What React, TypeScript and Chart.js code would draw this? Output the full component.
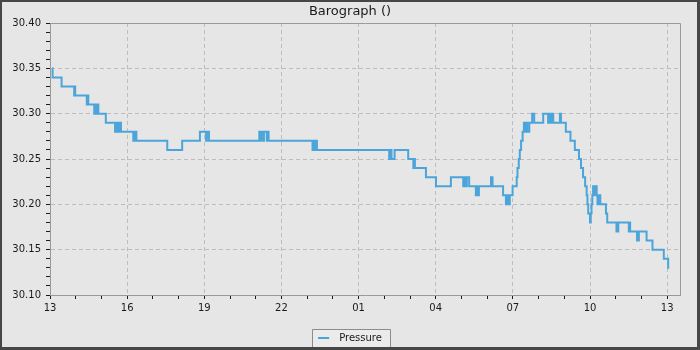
import React, { useEffect, useRef } from 'react';
import { Chart, registerables } from 'chart.js';

Chart.register(...registerables);

// Hours elapsed since 13:00 on the first day (each entry is the moment the reading changes)
const hoursSinceStart = [
  0.09, 0.10, 0.45, 0.94, 0.96, 0.98, 1.43, 1.46, 1.49, 1.72,
  1.77, 1.81, 1.85, 1.88, 2.17, 2.53, 2.59, 2.64, 2.70, 2.76,
  3.24, 3.30, 3.36, 4.56, 5.14, 5.83, 6.07, 6.10, 6.18, 8.14,
  8.18, 8.22, 8.30, 8.32, 8.43, 8.46, 8.50, 10.21, 10.26, 10.30,
  10.34, 10.38, 13.19, 13.24, 13.28, 13.40, 13.93, 14.13, 14.15, 14.19,
  14.62, 15.01, 15.59, 16.07, 16.12, 16.15, 16.21, 16.30, 16.56, 16.60,
  16.64, 16.68, 17.15, 17.21, 17.62, 17.73, 17.77, 17.81, 17.88, 17.99,
  18.15, 18.18, 18.23, 18.27, 18.32, 18.38, 18.43, 18.47, 18.51, 18.56,
  18.64, 18.75, 18.83, 19.18, 19.37, 19.41, 19.47, 19.53, 19.57, 19.83,
  19.87, 20.06, 20.24, 20.41, 20.57, 20.65, 20.73, 20.81, 20.87, 20.90,
  20.93, 21.00, 21.03, 21.06, 21.09, 21.12, 21.16, 21.19, 21.26, 21.29,
  21.35, 21.40, 21.62, 21.67, 22.03, 22.10, 22.51, 22.54, 22.56, 22.83,
  22.90, 23.20, 23.43, 23.87, 24.04, 24.08,
];

const pressure = [
  30.35, 30.34, 30.33, 30.32, 30.33, 30.32, 30.31, 30.32, 30.31, 30.30,
  30.31, 30.30, 30.31, 30.30, 30.29, 30.28, 30.29, 30.28, 30.29, 30.28,
  30.27, 30.28, 30.27, 30.26, 30.27, 30.28, 30.27, 30.28, 30.27, 30.28,
  30.27, 30.28, 30.27, 30.28, 30.27, 30.28, 30.27, 30.26, 30.27, 30.26,
  30.27, 30.26, 30.25, 30.26, 30.25, 30.26, 30.25, 30.24, 30.25, 30.24,
  30.23, 30.22, 30.23, 30.22, 30.23, 30.22, 30.23, 30.22, 30.21, 30.22,
  30.21, 30.22, 30.23, 30.22, 30.21, 30.20, 30.21, 30.20, 30.21, 30.22,
  30.23, 30.24, 30.25, 30.26, 30.27, 30.28, 30.29, 30.28, 30.29, 30.28,
  30.29, 30.30, 30.29, 30.30, 30.29, 30.30, 30.29, 30.30, 30.29, 30.30,
  30.29, 30.28, 30.27, 30.26, 30.25, 30.24, 30.23, 30.22, 30.21, 30.20,
  30.19, 30.18, 30.19, 30.20, 30.21, 30.22, 30.21, 30.22, 30.21, 30.20,
  30.21, 30.20, 30.19, 30.18, 30.17, 30.18, 30.17, 30.18, 30.17, 30.16,
  30.17, 30.16, 30.15, 30.14, 30.13, 30.13,
];

// Major x tick labels, one every 3 hours starting at 13:00
const xTickLabels = ['13', '16', '19', '22', '01', '04', '07', '10', '13'];
const xMaxHours = 24.5;
const yMin = 30.10;
const yMax = 30.40;

const LINE_COLOR = '#4ba5da';
const BG = '#e6e6e6';
const GRID = '#bdbdbd';
const AXIS = '#999999';
const TEXT = '#1a1a1a';
const FONT = 'DejaVu Sans';

export default function App() {
  const ref = useRef<HTMLCanvasElement>(null);

  useEffect(() => {
    document.body.style.margin = '0';
    const canvas = ref.current;
    if (!canvas) return;

    const marker = document.createElement('canvas');
    marker.width = 16;
    marker.height = 2;
    const mctx = marker.getContext('2d');
    if (mctx) {
      mctx.fillStyle = LINE_COLOR;
      mctx.fillRect(0, 0, 11, 2);
    }

    const framePlugin = {
      id: 'frame',
      beforeDraw(chart: any) {
        const { ctx, width, height } = chart;
        ctx.save();
        ctx.fillStyle = BG;
        ctx.fillRect(0, 0, width, height);
        const lg = chart.legend;
        if (lg && lg.legendHitBoxes && lg.legendHitBoxes.length) {
          const hb = lg.legendHitBoxes[0];
          const x0 = Math.round(hb.left - 6) + 0.5;
          const x1 = Math.round(hb.left + hb.width + 8) + 0.5;
          const y0 = Math.round(hb.top - 4) + 0.5;
          ctx.fillStyle = '#ebebeb';
          ctx.fillRect(x0, y0, x1 - x0, height - y0);
          ctx.strokeStyle = '#8c8c8c';
          ctx.lineWidth = 1;
          ctx.beginPath();
          ctx.moveTo(x0, height);
          ctx.lineTo(x0, y0);
          ctx.lineTo(x1, y0);
          ctx.lineTo(x1, height);
          ctx.stroke();
        }
        ctx.restore();
      },
      beforeDatasetsDraw(chart: any) {
        const { ctx, chartArea } = chart;
        ctx.save();
        ctx.strokeStyle = AXIS;
        ctx.lineWidth = 1;
        ctx.beginPath();
        ctx.moveTo(Math.round(chartArea.left) + 0.5, Math.round(chartArea.top) + 0.5);
        ctx.lineTo(Math.round(chartArea.right) + 0.5, Math.round(chartArea.top) + 0.5);
        ctx.lineTo(Math.round(chartArea.right) + 0.5, Math.round(chartArea.bottom) + 0.5);
        ctx.stroke();
        ctx.restore();
      },
      afterDraw(chart: any) {
        const { ctx, width, height } = chart;
        ctx.save();
        ctx.fillStyle = '#474747';
        ctx.fillRect(0, 0, width, 2);
        ctx.fillRect(0, 0, 2, height);
        ctx.fillRect(width - 3, 0, 3, height);
        ctx.fillRect(0, height - 3, width, 3);
        ctx.restore();
      },
    };

    const points = hoursSinceStart.map((h, i) => ({ x: h, y: pressure[i] }));

    const chart = new Chart(canvas, {
      type: 'line',
      data: {
        datasets: [
          {
            label: 'Pressure',
            data: points,
            borderColor: LINE_COLOR,
            backgroundColor: LINE_COLOR,
            borderWidth: 2,
            pointRadius: 0,
            stepped: true,
            fill: false,
          },
        ],
      },
      options: {
        animation: false,
        responsive: false,
        devicePixelRatio: 1,
        layout: { padding: { left: 0, right: 0, top: 0, bottom: -3 } },
        plugins: {
          title: {
            display: true,
            text: 'Barograph ()',
            color: TEXT,
            font: { family: FONT, size: 13, weight: 'normal' },
            padding: { top: 4, bottom: 3.4 },
          },
          legend: {
            display: true,
            position: 'bottom',
            labels: {
              color: TEXT,
              font: { family: FONT, size: 10 },
              usePointStyle: true,
              pointStyle: marker as any,
              pointStyleWidth: 16,
              padding: 6,
            },
          },
          tooltip: { enabled: false },
        },
        scales: {
          x: {
            type: 'linear',
            min: 0,
            max: xMaxHours,
            afterBuildTicks(scale: any) {
              const t = [];
              for (let h = 0; h <= 24; h++) t.push({ value: h });
              scale.ticks = t;
            },
            afterFit(scale: any) {
              scale.height = 32;
              scale.paddingLeft = 0;
              scale.paddingRight = 20;
            },
            ticks: {
              autoSkip: false,
              maxRotation: 0,
              color: TEXT,
              font: { family: FONT, size: 10 },
              padding: 3,
              callback: (v: any) => {
                const h = Math.round(Number(v));
                return h % 3 === 0 ? xTickLabels[h / 3] : '';
              },
            },
            grid: {
              color: (c: any) =>
                c.tick && Math.round(c.tick.value) % 3 === 0 ? GRID : 'rgba(0,0,0,0)',
              tickColor: TEXT,
              tickLength: 4,
              lineWidth: 1,
            },
            border: { display: true, color: AXIS, width: 1, dash: [4, 3] },
          },
          y: {
            type: 'linear',
            min: yMin,
            max: yMax,
            afterBuildTicks(scale: any) {
              const t = [];
              for (let i = 0; i <= 30; i++) t.push({ value: Math.round((yMin + i * 0.01) * 100) / 100 });
              scale.ticks = t;
            },
            afterFit(scale: any) {
              scale.width = 50;
            },
            ticks: {
              autoSkip: false,
              color: TEXT,
              font: { family: FONT, size: 10 },
              padding: 5,
              callback: (v: any) => {
                const n = Math.round(Number(v) * 100);
                return n % 5 === 0 ? (n / 100).toFixed(2) : '';
              },
            },
            grid: {
              color: (c: any) =>
                c.tick && Math.round(c.tick.value * 100) % 5 === 0 ? GRID : 'rgba(0,0,0,0)',
              tickColor: TEXT,
              tickLength: 4,
              lineWidth: 1,
            },
            border: { display: true, color: AXIS, width: 1, dash: [4, 3] },
          },
        },
      },
      plugins: [framePlugin],
    });

    return () => chart.destroy();
  }, []);

  return (
    <div style={{ width: 700, height: 350 }}>
      <canvas ref={ref} width={700} height={350} style={{ display: 'block' }} />
    </div>
  );
}
